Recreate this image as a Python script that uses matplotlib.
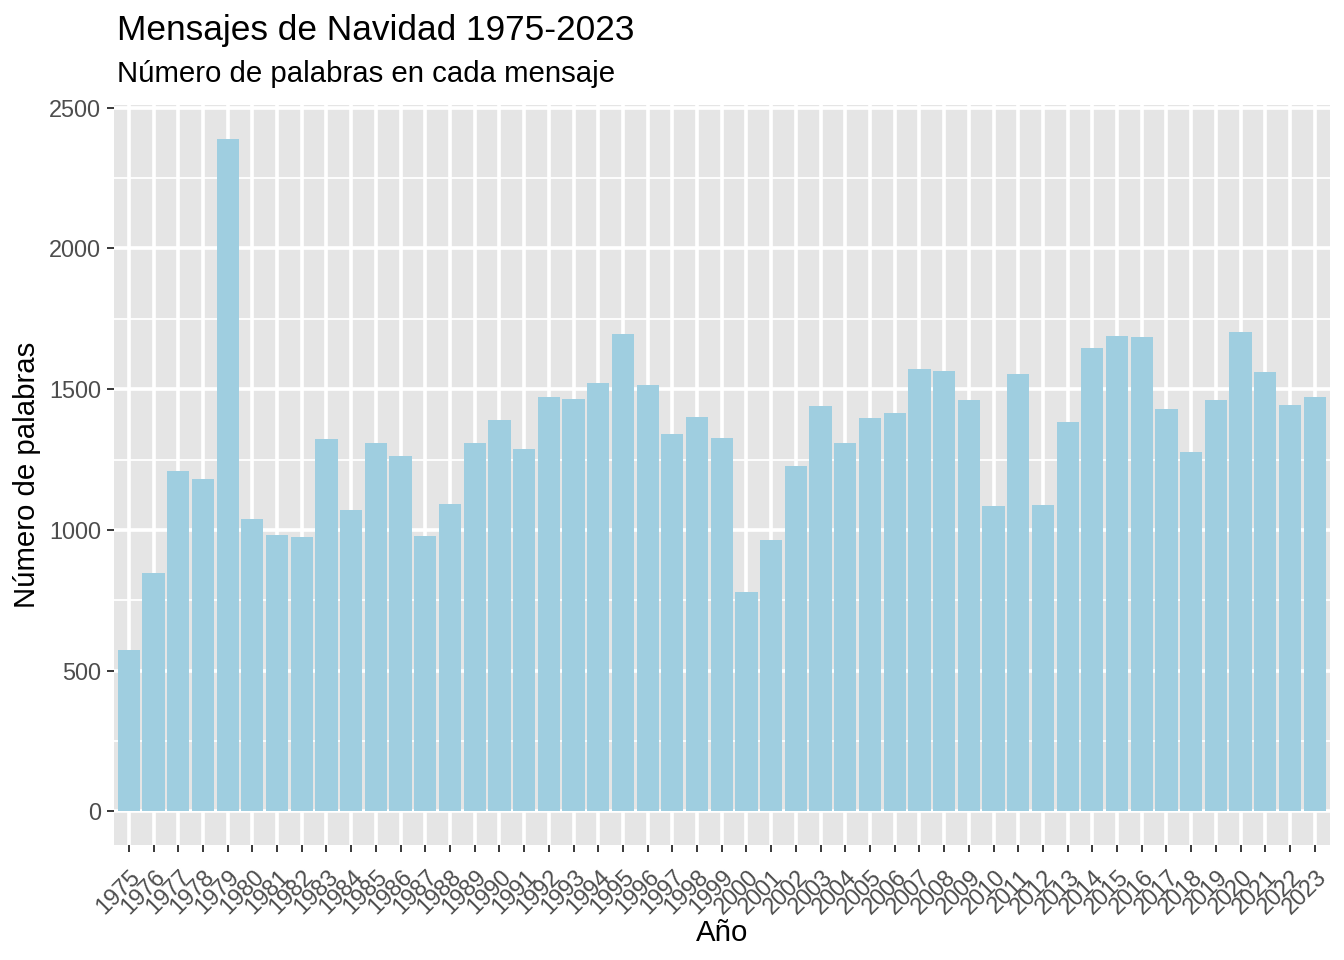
import matplotlib
matplotlib.use("Agg")
import matplotlib.pyplot as plt
from matplotlib.ticker import MultipleLocator, FixedLocator

years = list(range(1975, 2024))
words = [574, 847, 1209, 1181, 2390, 1039, 982, 975, 1323, 1071,
         1309, 1262, 979, 1092, 1309, 1390, 1287, 1472, 1464, 1521,
         1695, 1514, 1340, 1401, 1326, 780, 965, 1227, 1440, 1309,
         1397, 1415, 1571, 1564, 1461, 1085, 1553, 1089, 1383, 1645,
         1688, 1684, 1429, 1277, 1461, 1702, 1560, 1443, 1472]
year_labels = [str(y) for y in years]

title = "Mensajes de Navidad 1975-2023"
subtitle = "Número de palabras en cada mensaje"
xlabel = "Año"
ylabel = "Número de palabras"

plt.rcParams['font.family'] = ['Liberation Sans', 'DejaVu Sans']
S = 1.92

fig = plt.figure(figsize=(13.44, 9.6), dpi=100)
L, R, T, B = 114, 1329.5, 105, 845
ax = fig.add_axes([L/1344, 1-B/960, (R-L)/1344, (B-T)/960])
ax.set_facecolor('#E5E5E5')
for s in ax.spines.values():
    s.set_visible(False)

pos = list(range(1, len(years)+1))
ax.bar(pos, words, width=0.9, color='#9FCEE0', zorder=3)

ax.set_xlim(0.4, len(years)+0.6)
ymax = max(words)
ax.set_ylim(-0.05*ymax, ymax*1.05)

ax.yaxis.set_major_locator(MultipleLocator(500))
ax.yaxis.set_minor_locator(FixedLocator([250, 750, 1250, 1750, 2250]))
ax.set_xticks(pos)
ax.set_xticklabels(year_labels, rotation=45, ha='right', va='top',
                   rotation_mode='anchor', fontsize=8.8*S, color='#4D4D4D')
ax.tick_params(axis='y', labelsize=8.8*S, labelcolor='#4D4D4D')
ax.tick_params(axis='both', which='major', length=2.75*S, width=0.5*2.845*S*0.5,
               color='#333333', pad=2.2*S)
ax.tick_params(axis='x', which='major', pad=9.5)
ax.tick_params(axis='y', which='minor', length=0)

ax.grid(which='major', color='white', linewidth=1.37*S*0.5*2, zorder=1)
ax.grid(which='minor', axis='y', color='white', linewidth=0.68*S*0.5*2, zorder=1)
ax.set_axisbelow(True)

ax.set_xlabel(xlabel, fontsize=11*S, color='black', labelpad=0)
ax.set_ylabel(ylabel, fontsize=11*S, color='black', labelpad=2.75*S)

fig.text(117/1344, 1-40/960, title, fontsize=13.2*S, ha='left', va='baseline', color='black')
fig.text(117/1344, 1-82/960, subtitle, fontsize=11*S, ha='left', va='baseline', color='black')

fig.savefig('out.png', dpi=100, facecolor='white')
